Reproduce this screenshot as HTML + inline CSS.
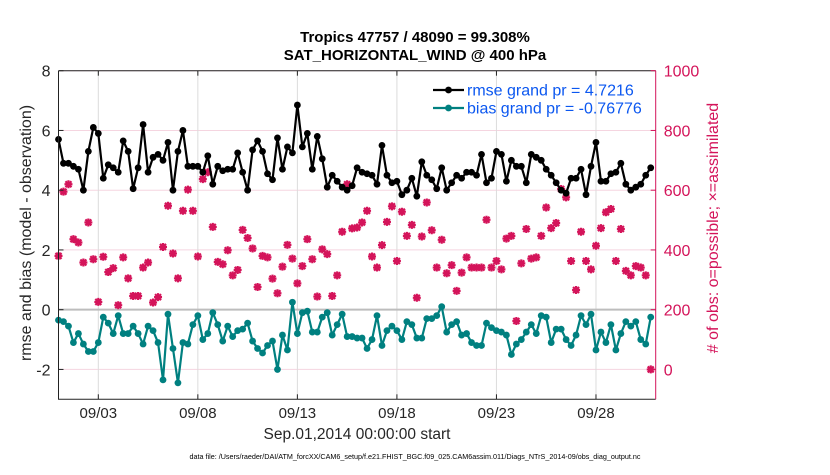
<!DOCTYPE html>
<html><head><meta charset="utf-8"><style>
body{margin:0;background:#fff;}
svg text{font-family:"Liberation Sans",sans-serif;}
</style></head><body>
<svg id="chart" width="830" height="470" viewBox="0 0 830 470" xmlns="http://www.w3.org/2000/svg">
<rect width="830" height="470" fill="#fff"/>
<g id="grid"></g>
<g id="series"></g>
<g id="axes"></g>
</svg>
<script>
const xTickLabels = ["09/03","09/08","09/13","09/18","09/23","09/28"];
const xTickDays = [2,7,12,17,22,27];
const leftTicks = [-2,0,2,4,6,8];
const rightTicks = [0,200,400,600,800,1000];
const rmse = [5.7,4.9,4.9,4.8,4.7,4.0,5.3,6.1,5.9,4.4,4.85,4.75,4.6,5.65,5.3,4.05,4.75,6.2,4.6,5.1,5.2,5.0,5.6,4.0,5.3,6.0,4.8,4.8,4.8,
4.6,5.15,4.2,4.8,4.65,4.7,4.7,5.25,4.6,4.0,5.35,5.65,5.3,4.55,4.35,5.75,4.7,5.45,5.25,6.85,5.45,5.9,4.7,5.8,5.05,4.1,4.5,4.3,4.1,4.0,4.15,
4.75,4.6,4.55,4.5,4.2,5.5,4.5,4.25,4.3,3.85,4.0,4.4,3.8,4.95,4.5,4.35,4.05,4.75,4.0,4.25,4.5,4.4,4.6,4.6,4.5,5.2,4.25,4.4,5.3,5.2,
4.3,5.0,4.8,4.8,4.25,5.2,5.1,5.0,4.7,4.5,4.25,4.0,3.9,4.4,4.4,4.7,3.85,4.8,5.6,4.3,4.3,4.55,4.6,4.9,4.2,4.0,4.1,4.2,4.5,4.75];
const bias = [-0.35,-0.4,-0.55,-1.1,-0.8,-1.15,-1.4,-1.4,-1.1,-0.25,-0.45,-0.8,-0.2,-0.8,-0.8,-0.55,-0.8,-1.15,-0.55,-0.7,-1.1,-2.35,-0.15,-1.3,-2.45,-1.1,-1.15,-0.5,-0.2,
-1.0,-0.8,-0.1,-0.5,-1.05,-0.55,-0.9,-0.7,-0.65,-0.45,-1.05,-1.3,-1.45,-1.2,-1.05,-2.0,-0.85,-1.35,0.25,-0.8,-0.1,-0.05,-0.75,-0.75,-0.25,-0.1,-0.85,-0.5,-0.15,-0.9,-0.9,
-0.95,-0.95,-1.3,-1.0,-0.2,-1.2,-0.7,-0.55,-0.7,-1.0,-0.4,-0.5,-0.95,-0.95,-0.3,-0.3,-0.2,0.1,-0.75,-0.5,-0.4,-0.85,-0.8,-1.1,-1.2,-1.2,-0.45,-0.6,-0.7,-0.75,
-0.85,-1.5,-1.15,-1.0,-0.75,-0.5,-0.8,-0.2,-0.25,-1.1,-0.65,-0.65,-1.0,-1.2,-0.85,-0.2,-0.5,-0.15,-1.35,-0.75,-1.1,-0.5,-1.35,-0.8,-0.4,-0.55,-0.4,-1.0,-1.15,-0.25];
const obsCount = [380,595,620,436,425,358,492,369,226,377,326,339,215,375,305,246,246,341,358,224,242,410,548,388,305,531,602,531,378,
637,660,477,360,352,399,315,333,467,440,405,276,380,375,304,255,344,417,371,288,346,436,369,244,402,386,246,315,461,620,472,
475,492,531,378,341,416,494,546,363,528,447,484,240,445,559,466,341,434,322,349,263,324,375,341,341,341,501,341,363,335,
438,447,162,355,470,371,375,447,542,473,490,604,576,363,266,461,363,335,414,473,526,537,363,470,330,315,346,341,315,0];

const NS="http://www.w3.org/2000/svg";
const PL=58.5, PR=655.7, PT=70.7, PB=399.3;
const xs = t => PL + t/30*(PR-PL);
const yL = v => PB - (v+3)/11*(PB-PT);
const yR = r => yL((r-200)/100);
const tOf = i => i*0.25;
function mk(tag, attrs, parent, text){const e=document.createElementNS(NS,tag);for(const k in attrs)e.setAttribute(k,attrs[k]);if(text!==undefined)e.textContent=text;parent.appendChild(e);return e;}
const grid=document.getElementById('grid'), ser=document.getElementById('series'), ax=document.getElementById('axes'), svg=document.getElementById('chart');
const RED="#d4145a", TEAL="#008080";

// grid
rightTicks.forEach(r=>{ if(r===200) return; const g=mk('line',{x1:PL,x2:PR,y1:yR(r),y2:yR(r),stroke:'#f5d5e0','stroke-width':1},grid);

});
xTickDays.forEach(d=>{const g=mk('line',{x1:xs(d),x2:xs(d),y1:PT,y2:PB,stroke:'#dcdcdc','stroke-width':1},grid);

});
const zl=mk('line',{x1:PL,x2:PR,y1:yL(0),y2:yL(0),stroke:'#bdbdbd','stroke-width':2},grid);



// obs count markers
obsCount.forEach((r,i)=>{const x=xs(tOf(i)),y=yR(r);
const g=mk('g',{},ser);


mk('path',{d:`M${x-4},${y}H${x+4}M${x},${y-4}V${y+4}M${x-3},${y-3}L${x+3},${y+3}M${x-3},${y+3}L${x+3},${y-3}`,stroke:RED,'stroke-width':2.2,fill:'none'},g);
mk('circle',{cx:x,cy:y,r:2.6,fill:RED},g);});

function series(vals,color,name){
 const pts=vals.map((v,i)=>xs(tOf(i)).toFixed(2)+','+yL(v).toFixed(2)).join(' ');
 const pl=mk('polyline',{points:pts,fill:'none',stroke:color,'stroke-width':2.2,'stroke-linejoin':'round'},ser);
 
 
 vals.forEach((v,i)=>{const c=mk('circle',{cx:xs(tOf(i)),cy:yL(v),r:3.4,fill:color},ser);
 
 });
}
series(rmse,'#000','rmse');
series(bias,TEAL,'bias');

// axes
const fr=mk('path',{d:`M${PL},${PT}H${PR}M${PL},${PT}V${PB}H${PR}`,stroke:'#222','stroke-width':1,fill:'none'},ax);


const ra=mk('line',{x1:PR,x2:PR,y1:PT,y2:PB,stroke:RED,'stroke-width':1},ax);


leftTicks.forEach(v=>{mk('line',{x1:PL,x2:PL+5,y1:yL(v),y2:yL(v),stroke:'#222'},ax);
const t=mk('text',{x:PL-8,y:yL(v)+6,'text-anchor':'end','font-size':16,fill:'#262626'},ax,String(v));

});
rightTicks.forEach(r=>{mk('line',{x1:PR-5,x2:PR,y1:yR(r),y2:yR(r),stroke:RED},ax);
const t=mk('text',{x:PR+8,y:yR(r)+6,'font-size':16,fill:RED},ax,String(r));

});
xTickDays.forEach((d,k)=>{mk('line',{x1:xs(d),x2:xs(d),y1:PB,y2:PB-5,stroke:'#222'},ax);
mk('line',{x1:xs(d),x2:xs(d),y1:PT,y2:PT+5,stroke:'#222'},ax);
const t=mk('text',{x:xs(d),y:418,'text-anchor':'middle','font-size':15,fill:'#262626'},ax,xTickLabels[k]);

});

// legend
const lg=mk('g',{},ax);


[['#000','rmse grand pr = 4.7216',90],[TEAL,'bias grand pr = -0.76776',108]].forEach(([c,s,y])=>{
 const e=mk('g',{},lg);
 
 
 mk('line',{x1:433,x2:464,y1:y,y2:y,stroke:c,'stroke-width':2.2},e);
 mk('circle',{cx:448.5,cy:y,r:3.4,fill:c},e);
 mk('text',{x:467,y:y+5.5,'font-size':16,fill:'#0b57f0'},e,s);
});
</script>
<div style="position:absolute;left:0;top:0;width:830px;height:470px;pointer-events:none;font-family:'Liberation Sans',sans-serif;">
<div style="position:absolute;left:0;width:830px;top:29px;text-align:center;font-weight:bold;font-size:15px;color:#000;">Tropics 47757 / 48090 = 99.308%</div>
<div style="position:absolute;left:0;width:830px;top:47px;text-align:center;font-weight:bold;font-size:15px;color:#000;">SAT_HORIZONTAL_WIND @ 400 hPa</div>
<div style="position:absolute;left:57px;width:600px;top:426px;text-align:center;font-size:15.5px;color:#262626;">Sep.01,2014 00:00:00 start</div>
<div style="position:absolute;left:0;width:830px;top:452px;text-align:center;font-size:7.2px;color:#000;">data file: /Users/raeder/DAI/ATM_forcXX/CAM6_setup/f.e21.FHIST_BGC.f09_025.CAM6assim.011/Diags_NTrS_2014-09/obs_diag_output.nc</div>
<div style="position:absolute;left:27px;top:233px;transform:translate(-50%,-50%) rotate(-90deg);white-space:nowrap;font-size:16px;color:#262626;">rmse and bias (model - observation)</div>
<div style="position:absolute;left:714px;top:228px;transform:translate(-50%,-50%) rotate(-90deg);white-space:nowrap;font-size:16px;color:#d4145a;"># of obs: o=possible; &#215;=assimilated</div>
</div>
</body></html>
